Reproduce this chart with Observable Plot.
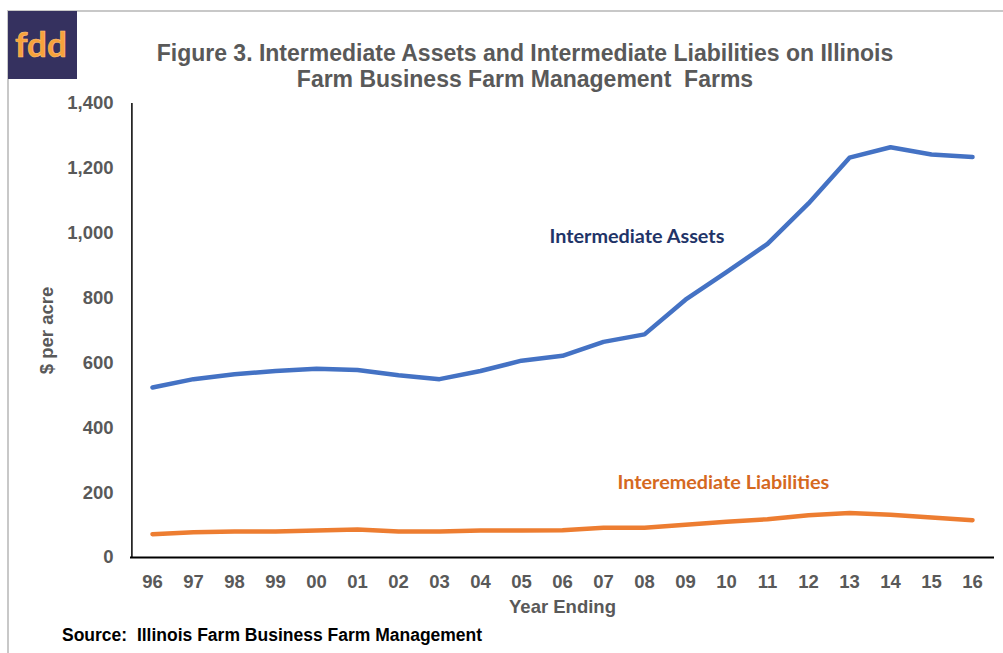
<!DOCTYPE html>
<html>
<head>
<meta charset="utf-8">
<script src="https://cdn.jsdelivr.net/npm/d3@7"></script>
<script src="https://cdn.jsdelivr.net/npm/@observablehq/plot@0.6"></script>
<style>
  html, body { margin: 0; padding: 0; background: #fff; }
  #wrap { position: relative; width: 1003px; height: 653px; overflow: hidden; font-family: "Liberation Sans", Arial, sans-serif; }
  #frame { position: absolute; left: 7px; top: 10px; width: 1010px; height: 700px; border-left: 2px solid #c8c8c8; border-top: 2px solid #c8c8c8; box-sizing: border-box; }
  #logo { position: absolute; left: 8px; top: 11px; width: 69px; height: 68px; background: #35315f; }
  #logo span { position: absolute; left: 7px; top: 12px; font-family: Lato, "Open Sans", sans-serif; font-weight: bold; font-size: 35px; line-height: 40px; color: #f7a23b; -webkit-text-stroke: 0.6px #ffc27a; }
  #title { position: absolute; left: 0; width: 1050px; top: 40px; text-align: center; font-weight: bold; font-size: 23px; color: #595959; line-height: 26px; letter-spacing: 0px; }
  #caption { position: absolute; left: 62px; top: 625px; font-weight: bold; font-size: 17.5px; color: #000; letter-spacing: 0px; }
  #chart { position: absolute; left: 0; top: 0; }
</style>
</head>
<body>
<div id="wrap">
  <div id="frame"></div>
  <div id="logo"><span>fdd</span></div>
  <div id="chart"></div>
  <div id="title">Figure 3. Intermediate Assets and Intermediate Liabilities on Illinois<br>Farm Business Farm Management&nbsp; Farms</div>
  <div id="caption">Source:&nbsp; Illinois Farm Business Farm Management</div>
</div>
<script>
const years = ["96","97","98","99","00","01","02","03","04","05","06","07","08","09","10","11","12","13","14","15","16"];
const assets = [524, 550, 565, 575, 582, 578, 562, 550, 575, 607, 622, 665, 688, 795, 880, 967, 1092, 1233, 1265, 1243, 1235];
const liabilities = [72, 78, 80, 80, 83, 86, 80, 80, 83, 83, 84, 92, 92, 101, 110, 118, 130, 137, 132, 123, 115];
const yTicks = [0, 200, 400, 600, 800, 1000, 1200, 1400];
const seriesNames = ["Intermediate Assets", "Interemediate Liabilities"];
const labelYears = ["06", "07"];
const labelValues = [990, 231];

const assetData = years.map((yr, i) => ({year: yr, value: assets[i]}));
const liabData = years.map((yr, i) => ({year: yr, value: liabilities[i]}));
const labelData = seriesNames.map((name, i) => ({name, year: labelYears[i], value: labelValues[i]}));

const tickFont = {fontSize: 18.5, fontWeight: "bold", fill: "#595959"};
const annFont = {fontSize: 19.8, fontWeight: "bold", fontFamily: "Lato, 'Open Sans', sans-serif", textAnchor: "start"};

const chart = Plot.plot({
  width: 1003,
  height: 653,
  marginTop: 103,
  marginBottom: 96,
  marginLeft: 130,
  marginRight: 9,
  style: {fontFamily: "'Liberation Sans', Arial, sans-serif", background: "transparent", overflow: "visible"},
  x: {type: "point", domain: years, padding: 0.5},
  y: {domain: [0, 1400]},
  marks: [
    Plot.axisY({ticks: yTicks, tickSize: 0, tickPadding: 17, tickFormat: d3.format(","), label: null, ...tickFont}),
    Plot.axisX({tickSize: 0, tickPadding: 17, label: null, ...tickFont}),
    Plot.ruleY([0], {stroke: "#000", strokeWidth: 1.8}),
    Plot.ruleX([0], {x: () => years[0], dx: -20.6, y1: 0, y2: 1400, stroke: "#000", strokeWidth: 1.5}),
    Plot.lineY(assetData, {x: "year", y: "value", stroke: "#4472c4", strokeWidth: 4.5, strokeLinecap: "round", strokeLinejoin: "round"}),
    Plot.lineY(liabData, {x: "year", y: "value", stroke: "#ed7d31", strokeWidth: 4.5, strokeLinecap: "round", strokeLinejoin: "round"}),
    Plot.text(labelData.slice(0, 1), {x: "year", y: "value", text: "name", dx: -13, fill: "#1f3468", ...annFont}),
    Plot.text(labelData.slice(1, 2), {x: "year", y: "value", text: "name", dx: 14, fill: "#d5691f", ...annFont}),
    Plot.text(["$ per acre"], {frameAnchor: "left", textAnchor: "middle", dx: -83, rotate: -90, fill: "#595959", fontSize: 18.5, fontWeight: "bold"}),
    Plot.text(["Year Ending"], {frameAnchor: "bottom", dy: 55, fill: "#595959", fontSize: 18.5, fontWeight: "bold"})
  ]
});
document.getElementById("chart").appendChild(chart);
</script>
</body>
</html>
